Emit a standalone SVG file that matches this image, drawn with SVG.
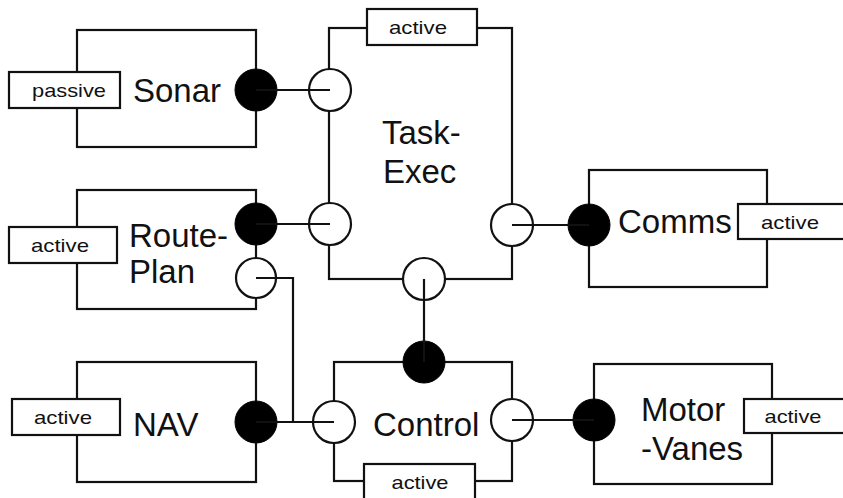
<svg xmlns="http://www.w3.org/2000/svg" width="843" height="498" viewBox="0 0 843 498">
<style>
.box{fill:#fff;stroke:#111;stroke-width:2.2}
.tag{fill:#fff;stroke:#111;stroke-width:2.2}
.open{fill:#fff;stroke:#111;stroke-width:2.2}
.fill{fill:#000;stroke:#000;stroke-width:1}
.name{font-family:"Liberation Sans",Arial,sans-serif;font-size:33px;fill:#111}
.lab{font-family:"Liberation Sans",Arial,sans-serif;font-size:19px;fill:#111;text-anchor:middle}
.con{fill:none;stroke:#111;stroke-width:2.2}
</style>
<rect width="843" height="498" fill="#fff"/>
<g id="Sonar">
<rect class="box" x="77" y="30" width="179" height="117"/>
<rect class="tag" x="9" y="72" width="111" height="36"/>
<text class="lab" x="69" y="97" textLength="74" lengthAdjust="spacingAndGlyphs">passive</text>
<text class="name" x="133" y="102">Sonar</text>
<circle class="fill" cx="256" cy="90" r="21"/>
</g>
<g id="TaskExec">
<rect class="box" x="329" y="28" width="183" height="251"/>
<rect class="tag" x="367" y="9" width="110" height="36"/>
<text class="lab" x="418" y="34" textLength="58" lengthAdjust="spacingAndGlyphs">active</text>
<text class="name" x="382" y="144">Task-</text>
<text class="name" x="383" y="183">Exec</text>
<circle class="open" cx="330" cy="90" r="21"/>
<circle class="open" cx="330" cy="224" r="21"/>
<circle class="open" cx="512" cy="225" r="21"/>
<circle class="open" cx="424" cy="279" r="21"/>
</g>
<g id="RoutePlan">
<rect class="box" x="77" y="190" width="179" height="119"/>
<rect class="tag" x="9" y="227" width="108" height="36"/>
<text class="lab" x="60" y="252" textLength="58" lengthAdjust="spacingAndGlyphs">active</text>
<text class="name" x="129" y="247">Route-</text>
<text class="name" x="129" y="283">Plan</text>
<circle class="fill" cx="256" cy="224" r="21"/>
<circle class="open" cx="256" cy="278" r="20"/>
</g>
<g id="Comms">
<rect class="box" x="589" y="170" width="178" height="117"/>
<rect class="tag" x="738" y="204" width="112" height="35"/>
<text class="lab" x="790" y="229" textLength="58" lengthAdjust="spacingAndGlyphs">active</text>
<text class="name" x="618" y="233">Comms</text>
<circle class="fill" cx="589" cy="225" r="21"/>
</g>
<g id="NAV">
<rect class="box" x="77" y="362" width="179" height="120"/>
<rect class="tag" x="12" y="399" width="108" height="36"/>
<text class="lab" x="63" y="424" textLength="58" lengthAdjust="spacingAndGlyphs">active</text>
<text class="name" x="133" y="436">NAV</text>
<circle class="fill" cx="256" cy="422" r="21"/>
</g>
<g id="Control">
<rect class="box" x="334" y="362" width="178" height="119"/>
<rect class="tag" x="364" y="464" width="111" height="40"/>
<text class="lab" x="420" y="489" textLength="57" lengthAdjust="spacingAndGlyphs">active</text>
<text class="name" x="373" y="436">Control</text>
<circle class="open" cx="334" cy="422" r="21"/>
<circle class="open" cx="512" cy="420" r="21"/>
<circle class="fill" cx="424" cy="362" r="21"/>
</g>
<g id="MotorVanes">
<rect class="box" x="594" y="364" width="178" height="120"/>
<rect class="tag" x="744" y="399" width="110" height="34"/>
<text class="lab" x="793" y="423" textLength="57" lengthAdjust="spacingAndGlyphs">active</text>
<text class="name" x="641" y="421">Motor</text>
<text class="name" x="641" y="460">-Vanes</text>
<circle class="fill" cx="594" cy="420" r="21"/>
</g>
<g id="connectors">
<line class="con" x1="256" y1="90" x2="330" y2="90"/>
<line class="con" x1="256" y1="224" x2="330" y2="224"/>
<line class="con" x1="512" y1="225" x2="589" y2="225"/>
<line class="con" x1="424" y1="279" x2="424" y2="362"/>
<polyline class="con" points="256,278 293,278 293,422"/>
<line class="con" x1="256" y1="422" x2="334" y2="422"/>
<line class="con" x1="512" y1="420" x2="594" y2="420"/>
</g>
</svg>
